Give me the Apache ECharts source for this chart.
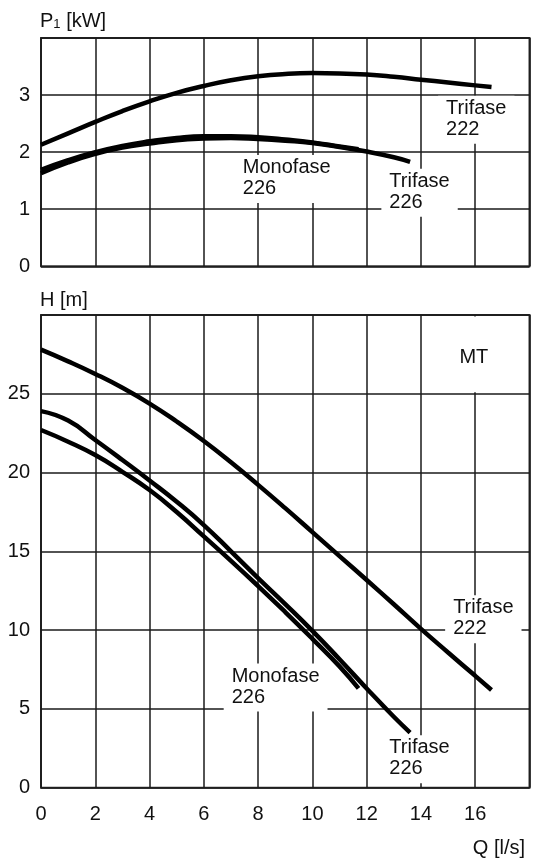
<!DOCTYPE html>
<html>
<head>
<meta charset="utf-8">
<script src="https://cdn.jsdelivr.net/npm/echarts@6/dist/echarts.min.js"></script>
<style>
html,body{margin:0;padding:0;background:#fff;}
#c{width:538px;height:859px;}
</style>
</head>
<body>
<div id="c"></div>
<script>
// Flow values (Q, l/s) sampled for each curve
const flowTri222 = [0,1,2,3,4,5,6,7,8,9,10,11,12,13,14,15,16,16.6];
const flowTri226 = [0,1,2,3,4,5,6,7,8,9,10,11,12,13,13.6];
const flowMono226 = [0,1,2,3,4,5,6,7,8,9,10,11,11.7];

// Power input P1 [kW]
const powerTri222 = [2.13,2.33,2.53,2.72,2.89,3.04,3.16,3.26,3.33,3.37,3.385,3.38,3.36,3.32,3.27,3.22,3.17,3.14];
const powerTri226 = [1.63,1.82,1.97,2.08,2.15,2.21,2.24,2.25,2.23,2.20,2.16,2.09,2.01,1.91,1.83];
const powerMono226 = [1.69,1.86,2.00,2.11,2.19,2.25,2.28,2.28,2.26,2.22,2.17,2.10,2.05];

// Head H [m]
const headTri222 = [27.8,27.06,26.26,25.38,24.38,23.24,22.0,20.65,19.22,17.74,16.22,14.7,13.18,11.64,10.08,8.58,7.1,6.2];
const headTri226 = [23.9,23.3,22.07,20.8,19.5,18.15,16.67,15.0,13.3,11.65,9.95,8.15,6.3,4.5,3.5];
const headMono226 = [22.7,21.96,21.11,20.05,18.89,17.5,15.95,14.4,12.8,11.15,9.45,7.7,6.3];

// Curve labels
const nameTri222 = 'Trifase\n222';
const nameTri226 = 'Trifase\n226';
const nameMono226 = 'Monofase\n226';
const modelName = 'MT';

const FONT = 'Liberation Sans, Arial, sans-serif';
const TXT = '#111';

function pairs(xs, ys){ return xs.map((x,i)=>[x, ys[i]]); }

const lineStyle = {color:'#000', width:4.5};
function curve(name, xi, yi, xs, ys, extra){
  return Object.assign({
    name: name, type:'line', xAxisIndex:xi, yAxisIndex:yi,
    data: pairs(xs, ys), showSymbol:false, symbol:'none', smooth:0.5,
    lineStyle: lineStyle, silent:true, animation:false
  }, extra||{});
}

const labelStyle = {
  show:true, position:[0,0], align:'left', verticalAlign:'top',
  backgroundColor:'#fff', padding:[2,8,4,8],
  color:TXT, fontSize:20, lineHeight:21, fontFamily:FONT
};
function tags(list){
  return {
    symbol:'circle', symbolSize:1, itemStyle:{color:'transparent'},
    label: labelStyle, silent:true, animation:false,
    data: list.map(t=>({coord:[t[1],t[2]], label:{formatter:t[0]}}))
  };
}

const axisLabelStyle = {color:TXT, fontSize:20, fontFamily:FONT};
const split = {show:true, lineStyle:{color:'#1a1a1a', width:1.5}};

const option = {
  animation:false,
  backgroundColor:'#fff',
  grid:[
    {left:41, right:8.5, top:38, height:228.3, show:true, borderColor:'#333', borderWidth:2},
    {left:41, right:8.5, top:315, height:472.7, show:true, borderColor:'#333', borderWidth:2}
  ],
  xAxis:[
    {gridIndex:0, type:'value', min:0, max:18, interval:2,
     axisLine:{show:false}, axisTick:{show:false}, axisLabel:{show:false}, splitLine:split},
    {gridIndex:1, type:'value', min:0, max:18, interval:2,
     axisLine:{show:false}, axisTick:{show:false},
     axisLabel:Object.assign({margin:17, showMaxLabel:false}, axisLabelStyle), splitLine:split}
  ],
  yAxis:[
    {gridIndex:0, type:'value', min:0, max:4, interval:1,
     axisLine:{show:false}, axisTick:{show:false},
     axisLabel:Object.assign({margin:11, showMaxLabel:false}, axisLabelStyle), splitLine:split},
    {gridIndex:1, type:'value', min:0, max:30, interval:5,
     axisLine:{show:false}, axisTick:{show:false},
     axisLabel:Object.assign({margin:11, showMaxLabel:false}, axisLabelStyle), splitLine:split}
  ],
  graphic:[
    {type:'text', left:40, top:11, silent:true, style:{
      text:'{p|P}{s|1}{p| [kW]}', fill:TXT,
      rich:{p:{fontSize:20, fontFamily:FONT, fill:TXT, lineHeight:22, verticalAlign:'bottom'},
            s:{fontSize:13, fontFamily:FONT, fill:TXT, lineHeight:16, verticalAlign:'bottom'}}
    }},
    {type:'text', left:40, top:290, silent:true, style:{text:'H [m]', font:'20px '+FONT, fill:TXT}},
    {type:'text', right:13, top:838, silent:true, style:{text:'Q [l/s]', font:'20px '+FONT, fill:TXT}}
  ],
  series:[
    curve('P Trifase 222', 0, 0, flowTri222, powerTri222, {
      markPoint: tags([[nameTri222, 14.65, 2.98],[nameMono226, 7.16, 1.94],[nameTri226, 12.56, 1.70]])
    }),
    curve('P Trifase 226', 0, 0, flowTri226, powerTri226),
    curve('P Monofase 226', 0, 0, flowMono226, powerMono226),
    curve('H Trifase 222', 1, 1, flowTri222, headTri222, {
      markPoint: tags([[nameTri222, 14.91, 12.19],[nameMono226, 6.75, 7.85],[nameTri226, 12.56, 3.30]]),
      markArea: {silent:true, itemStyle:{color:'#fff'},
        label:{show:true, position:'inside', offset:[0,3], color:TXT, fontSize:20, fontFamily:FONT},
        data:[[{name:modelName, coord:[15.1,25.1]},{coord:[16.8,29.9]}]]}
    }),
    curve('H Trifase 226', 1, 1, flowTri226, headTri226),
    curve('H Monofase 226', 1, 1, flowMono226, headMono226)
  ]
};

const chart = echarts.init(document.getElementById('c'), null, {renderer:'canvas'});
chart.setOption(option);
</script>
</body>
</html>
